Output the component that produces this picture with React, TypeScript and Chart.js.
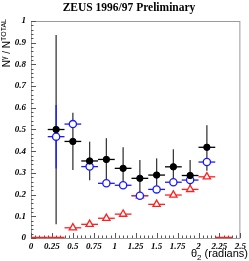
import React, { useEffect, useRef } from "react";
import { Chart, registerables } from "chart.js";

Chart.register(...registerables);

const TITLE = "ZEUS 1996/97 Preliminary";
const X_TICK_STEP = 0.25;
const Y_TICK_STEP = 0.1;

// bin centres (radians) and half-widths
const xAll = [0.3, 0.5, 0.7, 0.9, 1.1, 1.3, 1.5, 1.7, 1.9, 2.1];
const xHalf = 0.1;

// black filled circles
const blackVals = [0.5, 0.445, 0.355, 0.362, 0.321, 0.275, 0.29, 0.328, 0.288, 0.418];
const blackHi = [0.935, 0.577, 0.444, 0.46, 0.418, 0.36, 0.367, 0.409, 0.36, 0.52];
const blackLo = [0.063, 0.313, 0.266, 0.264, 0.235, 0.205, 0.222, 0.255, 0.222, 0.31];

// blue open circles
const blueVals = [0.467, 0.525, 0.329, 0.252, 0.243, 0.195, 0.224, 0.257, 0.267, 0.35];
const blueHi = [0.613, 0.525, 0.329, 0.252, 0.243, 0.195, 0.224, 0.257, 0.267, 0.35];
const blueLo = [0.32, 0.525, 0.329, 0.252, 0.243, 0.195, 0.224, 0.257, 0.267, 0.35];

// red open triangles
const redX = [0.5, 0.7, 0.9, 1.1, 1.3, 1.5, 1.7, 1.9, 2.1];
const redVals = [0.047, 0.063, 0.091, 0.11, 0.195, 0.155, 0.198, 0.224, 0.282];
// red bins with zero content
const redZeroFrom = [0, 0.2, 2.2];
const redZeroTo = [0.2, 0.4, 2.4];

const BLACK = "#000000";
const BLACK_ERR = "#3a3a3a";
const BLUE = "#1a1aff";
const RED = "#ff2020";

type Series = { x: number[]; y: number[]; hi: number[]; lo: number[]; vColor: string; hColor: string };

const errorSeries: Series[] = [
  { x: xAll, y: blackVals, hi: blackHi, lo: blackLo, vColor: BLACK_ERR, hColor: BLACK },
  { x: xAll, y: blueVals, hi: blueHi, lo: blueLo, vColor: BLUE, hColor: BLUE },
  { x: redX, y: redVals, hi: redVals, lo: redVals, vColor: RED, hColor: RED },
];

const errorPlugin = {
  id: "errbars",
  beforeDatasetsDraw(chart: any) {
    const { ctx, scales } = chart;
    const xs = scales.x;
    const ys = scales.y;
    ctx.save();
    for (const s of errorSeries) {
      for (let i = 0; i < s.x.length; i++) {
        const px = xs.getPixelForValue(s.x[i]);
        const py = ys.getPixelForValue(s.y[i]);
        ctx.lineWidth = 1.3;
        if (s.hi[i] !== s.lo[i]) {
          ctx.strokeStyle = s.vColor;
          ctx.beginPath();
          ctx.moveTo(px, ys.getPixelForValue(s.hi[i]));
          ctx.lineTo(px, ys.getPixelForValue(s.lo[i]));
          ctx.stroke();
        }
        ctx.strokeStyle = s.hColor;
        ctx.beginPath();
        ctx.moveTo(xs.getPixelForValue(s.x[i] - xHalf), py);
        ctx.lineTo(xs.getPixelForValue(s.x[i] + xHalf), py);
        ctx.stroke();
      }
    }
    ctx.restore();
  },
};

const framePlugin = {
  id: "frame",
  afterDraw(chart: any) {
    const { ctx, chartArea, scales } = chart;
    const xs = scales.x;
    const ys = scales.y;
    ctx.save();
    ctx.strokeStyle = "#9a9a9a";
    ctx.lineWidth = 1;
    ctx.strokeRect(chartArea.left + 0.5, chartArea.top + 0.5, chartArea.right - chartArea.left - 1, chartArea.bottom - chartArea.top);
    ctx.strokeStyle = "#555";
    for (let v = 0; v <= 1.0001; v += 0.02) {
      const major = Math.abs(v / 0.1 - Math.round(v / 0.1)) < 1e-6;
      const py = Math.round(ys.getPixelForValue(v)) + 0.5;
      ctx.beginPath();
      ctx.moveTo(chartArea.left, py);
      ctx.lineTo(chartArea.left + (major ? 5 : 2.5), py);
      ctx.stroke();
    }
    for (let v = 0; v <= 2.5001; v += 0.05) {
      const major = Math.abs(v / 0.25 - Math.round(v / 0.25)) < 1e-6;
      const px = Math.round(xs.getPixelForValue(v)) + 0.5;
      ctx.beginPath();
      ctx.moveTo(px, chartArea.bottom);
      ctx.lineTo(px, chartArea.bottom - (major ? 5 : 2.5));
      ctx.stroke();
    }
    // zero-content red bins, drawn over the axis line
    ctx.strokeStyle = RED;
    ctx.lineWidth = 1.5;
    for (let i = 0; i < redZeroFrom.length; i++) {
      const py = ys.getPixelForValue(0) - 0.5;
      ctx.beginPath();
      ctx.moveTo(xs.getPixelForValue(redZeroFrom[i]), py);
      ctx.lineTo(xs.getPixelForValue(redZeroTo[i]), py);
      ctx.stroke();
    }

    ctx.fillStyle = "#000";
    ctx.textBaseline = "alphabetic";

    // title
    ctx.font = "bold 11.5px 'Liberation Serif', 'Times New Roman', serif";
    ctx.textAlign = "center";
    ctx.fillText(TITLE, 129, 11);
    ctx.textAlign = "left";

    // x title: θ2 (radians), right aligned
    const big = "11px 'Liberation Sans', Arial, sans-serif";
    const small = "8px 'Liberation Sans', Arial, sans-serif";
    ctx.font = big;
    const w1 = ctx.measureText("θ").width;
    const w3 = ctx.measureText(" (radians)").width;
    ctx.font = small;
    const w2 = ctx.measureText("2").width;
    const right = 248;
    const base = 257;
    const x0 = right - (w1 + w2 + w3);
    ctx.font = big;
    ctx.fillText("θ", x0, base);
    ctx.font = small;
    ctx.fillText("2", x0 + w1, base + 2.5);
    ctx.font = big;
    ctx.fillText(" (radians)", x0 + w1 + w2, base);

    // y title: N^γ / N^TOTAL rotated, ending at top
    const yb = "10px 'Liberation Sans', Arial, sans-serif";
    const ys2 = "7px 'Liberation Sans', Arial, sans-serif";
    const parts: [string, string, number][] = [
      ["N", yb, 0],
      ["γ", ys2, -4],
      [" / N", yb, 0],
      ["TOTAL", ys2, -4],
    ];
    let total = 0;
    for (const [t, f] of parts) {
      ctx.font = f;
      total += ctx.measureText(t).width;
    }
    ctx.translate(10, 19 + total);
    ctx.rotate(-Math.PI / 2);
    let cx = 0;
    for (const [t, f, dy] of parts) {
      ctx.font = f;
      ctx.fillText(t, cx, dy);
      cx += ctx.measureText(t).width;
    }
    ctx.restore();
  },
};

const fmt = (v: number) => String(parseFloat(Number(v).toFixed(2)));

export default function App() {
  const ref = useRef<HTMLCanvasElement | null>(null);
  useEffect(() => {
    document.body.style.margin = "0";
    const tickFont = { family: "'Liberation Serif', 'Times New Roman', serif", size: 9, weight: "bold" as const, style: "italic" as const };
    const chart = new Chart(ref.current!, {
      type: "scatter",
      data: {
        datasets: [
          {
            label: "black",
            data: xAll.map((x, i) => ({ x, y: blackVals[i] })),
            pointStyle: "circle",
            pointRadius: 3.2,
            backgroundColor: BLACK,
            borderColor: BLACK,
            borderWidth: 1,
          },
          {
            label: "blue",
            data: xAll.map((x, i) => ({ x, y: blueVals[i] })),
            pointStyle: "circle",
            pointRadius: 3.6,
            backgroundColor: "#ffffff",
            borderColor: BLUE,
            borderWidth: 1.3,
          },
          {
            label: "red",
            data: redX.map((x, i) => ({ x, y: redVals[i] })),
            pointStyle: "triangle",
            pointRadius: 4.2,
            backgroundColor: "#ffffff",
            borderColor: RED,
            borderWidth: 1.3,
          },
        ],
      },
      options: {
        responsive: false,
        animation: false,
        devicePixelRatio: 1,
        layout: { padding: { left: 0, right: 8, top: 21, bottom: 0 } },
        plugins: {
          legend: { display: false },
          tooltip: { enabled: false },
          title: { display: false },
        },
        scales: {
          x: {
            type: "linear",
            min: 0,
            max: 2.5,
            grid: { display: false, drawTicks: false },
            border: { display: false },
            ticks: {
              stepSize: X_TICK_STEP,
              autoSkip: false,
              maxRotation: 0,
              padding: 3,
              color: "#000",
              font: tickFont,
              callback: (v: any) => fmt(v),
            },
            afterFit: (s: any) => {
              s.height = 23;
            },
          },
          y: {
            type: "linear",
            min: 0,
            max: 1,
            grid: { display: false, drawTicks: false },
            border: { display: false },
            ticks: {
              stepSize: Y_TICK_STEP,
              autoSkip: false,
              padding: 5,
              color: "#000",
              font: tickFont,
              callback: (v: any) => fmt(v),
            },
            afterFit: (s: any) => {
              s.width = 31;
            },
          },
        },
      },
      plugins: [errorPlugin, framePlugin],
    });
    return () => chart.destroy();
  }, []);
  return (
    <div style={{ position: "absolute", left: 0, top: 0, width: 249, height: 261 }}>
      <canvas ref={ref} width={249} height={261} />
    </div>
  );
}
